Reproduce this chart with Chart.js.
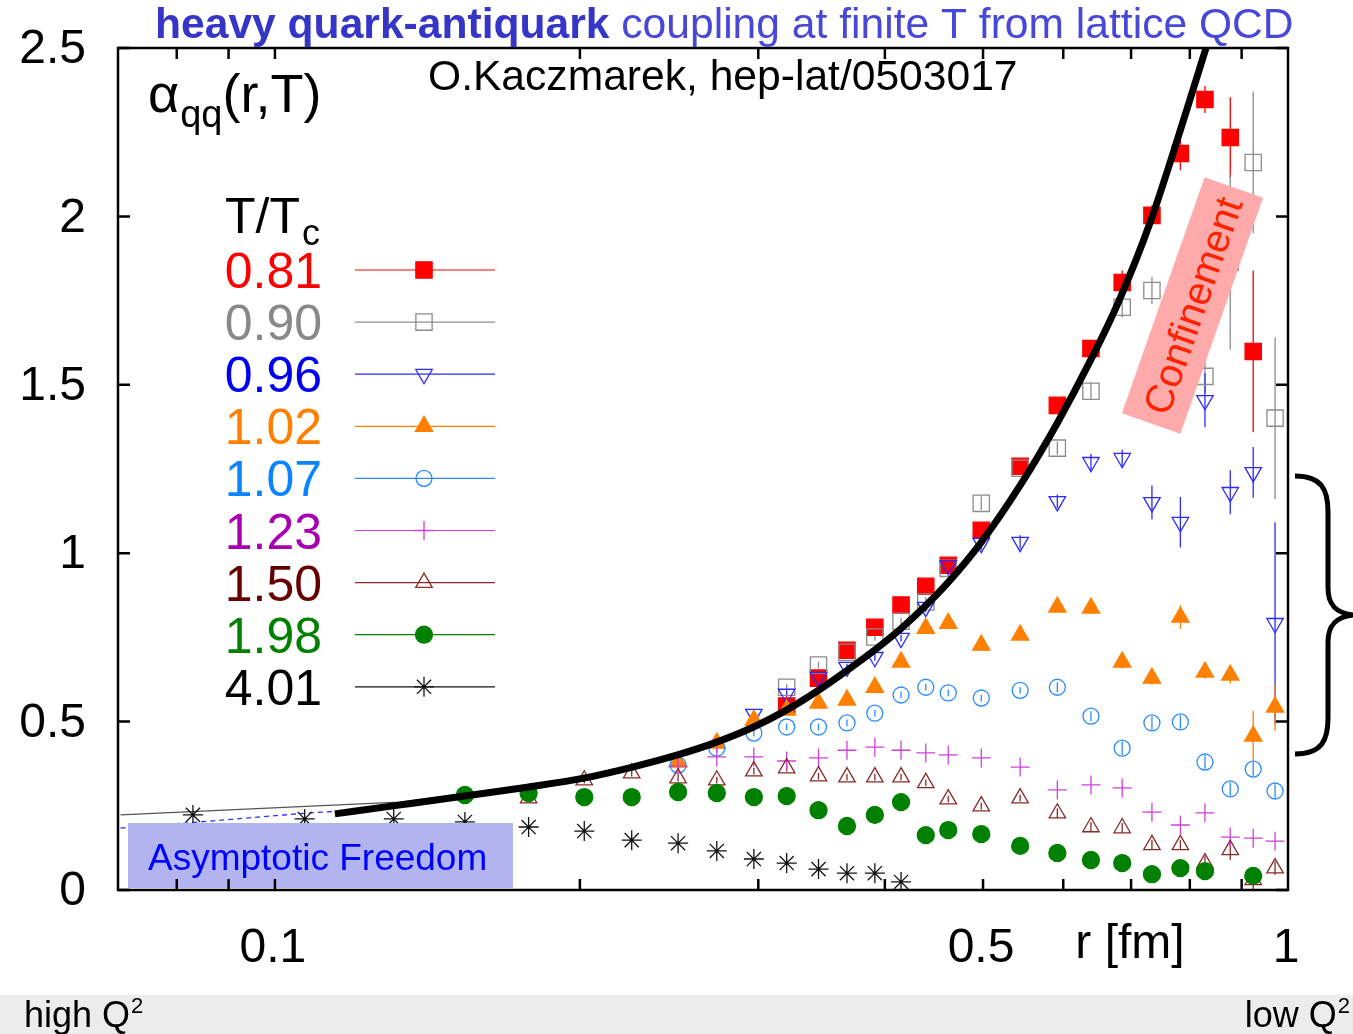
<!DOCTYPE html>
<html>
<head>
<meta charset="utf-8">
<script src="https://cdn.jsdelivr.net/npm/chart.js@4.4.1/dist/chart.umd.min.js"></script>
<style>
  body { margin: 0; background: #fff; }
  #wrap { width: 1353px; height: 1034px; }
</style>
</head>
<body>
<div id="wrap"><canvas id="myChart" width="1353" height="1034"></canvas></div>
<script>
// separations r [fm] at which the lattice points sit
var rValues = [0.083, 0.107, 0.131, 0.154, 0.178, 0.202, 0.225, 0.250, 0.273, 0.297,
               0.320, 0.344, 0.367, 0.391, 0.415, 0.439, 0.462, 0.498, 0.544, 0.592,
               0.639, 0.686, 0.734, 0.783, 0.828, 0.877, 0.924, 0.971];

var tLabels = ['0.81', '0.90', '0.96', '1.02', '1.07', '1.23', '1.50', '1.98', '4.01'];

var N = null;
var a081 = [N, N, N, N, N, N, N, N, N, N, 0.546, 0.629, 0.712, 0.780, 0.846, 0.902, 0.964, 1.068, 1.258, 1.439, 1.608, 1.804, 2.003, 2.187, 2.347, 2.234, 1.599, N];
var a090 = [N, N, N, N, N, N, N, N, N, N, 0.602, 0.668, 0.706, 0.751, 0.798, 0.855, 0.955, 1.148, 1.252, 1.312, 1.481, 1.730, 1.780, 1.720, 1.525, 1.864, 2.160, 1.401];
var a096 = [N, N, N, N, N, N, N, N, N, 0.522, 0.582, 0.632, 0.662, 0.691, 0.748, 0.840, 0.964, 1.030, 1.033, 1.154, 1.270, 1.282, 1.151, 1.092, 1.454, 1.181, 1.240, 0.792];
var a102 = [N, N, N, N, N, N, N, 0.380, 0.436, 0.504, 0.534, 0.555, 0.564, 0.602, 0.677, 0.777, 0.792, 0.727, 0.757, 0.840, 0.837, 0.677, 0.629, 0.810, 0.647, 0.638, 0.457, 0.543];
var a107 = [N, N, N, N, N, N, N, 0.371, 0.421, 0.466, 0.484, 0.484, 0.496, 0.525, 0.579, 0.602, 0.585, 0.570, 0.593, 0.602, 0.516, 0.421, 0.496, 0.499, 0.380, 0.300, 0.359, 0.294];
var a123 = [N, N, N, N, N, N, N, 0.368, 0.395, 0.395, 0.383, 0.392, 0.415, 0.424, 0.415, 0.407, 0.401, 0.392, 0.365, 0.297, 0.312, 0.303, 0.231, 0.193, 0.229, 0.157, 0.154, 0.145];
var a150 = [N, N, N, N, 0.273, 0.326, 0.347, 0.332, 0.326, 0.353, 0.362, 0.338, 0.335, 0.335, 0.335, 0.318, 0.270, 0.249, 0.273, 0.228, 0.187, 0.184, 0.134, 0.134, 0.080, 0.119, 0.030, 0.065];
var a198 = [N, N, N, 0.282, 0.288, 0.276, 0.276, 0.291, 0.288, 0.276, 0.279, 0.237, 0.190, 0.223, 0.261, 0.163, 0.178, 0.166, 0.131, 0.110, 0.089, 0.080, 0.047, 0.065, 0.056, N, 0.042, N];
var a401 = [0.223, 0.211, 0.211, 0.202, 0.187, 0.175, 0.148, 0.139, 0.116, 0.092, 0.080, 0.062, 0.050, 0.050, 0.024, N, N, N, N, N, N, N, N, N, N, N, N, N];

// error bars (0 = none drawn)
var e081 = [0, 0, 0, 0, 0, 0, 0, 0, 0, 0, 0.01, 0.01, 0.01, 0.01, 0.01, 0.01, 0.015, 0.015, 0.02, 0.02, 0.025, 0.035, 0.03, 0.05, 0.04, 0.12, 0.24, 0];
var e090 = [0, 0, 0, 0, 0, 0, 0, 0, 0, 0, 0.01, 0.01, 0.01, 0.01, 0.01, 0.015, 0.015, 0.02, 0.02, 0.02, 0.025, 0.03, 0.04, 0.06, 0.05, 0.26, 0.21, 0.24];
var e096 = [0, 0, 0, 0, 0, 0, 0, 0, 0, 0.01, 0.01, 0.01, 0.01, 0.01, 0.01, 0.015, 0.015, 0.02, 0.02, 0.02, 0.025, 0.025, 0.05, 0.075, 0.08, 0.065, 0.075, 0.3];
var e102 = [0, 0, 0, 0, 0, 0, 0, 0.01, 0.01, 0.01, 0.01, 0.01, 0.01, 0.01, 0.01, 0.01, 0.01, 0.015, 0.015, 0.015, 0.015, 0.02, 0.02, 0.035, 0.02, 0.025, 0.075, 0.07];
var e107 = [0, 0, 0, 0, 0, 0, 0, 0.01, 0.01, 0.01, 0.01, 0.01, 0.01, 0.01, 0.01, 0.01, 0.01, 0.01, 0.01, 0.015, 0.015, 0.02, 0.02, 0.02, 0.02, 0.02, 0.02, 0.02];
var e150 = [0, 0, 0, 0, 0.01, 0.01, 0.01, 0.01, 0.01, 0.01, 0.01, 0.01, 0.01, 0.01, 0.01, 0.01, 0.01, 0.01, 0.01, 0.015, 0.015, 0.015, 0.015, 0.015, 0.02, 0.03, 0.03, 0.02];

// perturbative / T=0 curves
var rCurve = [0.1146, 0.1325, 0.1539, 0.1781, 0.2017, 0.2254, 0.2497, 0.2729, 0.2968, 0.3198, 0.3440, 0.3674, 0.3906, 0.4152, 0.4385, 0.4621, 0.4981, 0.5442, 0.5918, 0.640, 0.680, 0.731, 0.793, 0.830];
var aCurve = [0.226, 0.252, 0.279, 0.306, 0.332, 0.365, 0.401, 0.439, 0.484, 0.534, 0.593, 0.653, 0.712, 0.777, 0.843, 0.914, 1.033, 1.202, 1.386, 1.579, 1.745, 1.982, 2.309, 2.50];
var rThin = [0.0704, 0.1325, 0.1539, 0.1781];
var aThin = [0.223, 0.261, 0.285, 0.310];
var rDash = [0.0704, 0.0841, 0.1085, 0.1307, 0.1539, 0.1781, 0.2017, 0.2254, 0.2497, 0.2729];
var aDash = [0.184, 0.202, 0.229, 0.246, 0.280, 0.307, 0.336, 0.370, 0.406, 0.443];

var yTickValues = [0, 0.5, 1, 1.5, 2, 2.5];
var yTickLabels = ['0', '0.5', '1', '1.5', '2', '2.5'];
var xTickValues = [0.08, 0.09, 0.1, 0.2, 0.3, 0.4, 0.5, 0.6, 0.7, 0.8, 0.9];
var xLabelValues = [0.1, 0.5, 1];
var xLabelTexts = ['0.1', '0.5', '1'];

var FONT = '"Liberation Sans", Arial, Helvetica, sans-serif';

var styles = [
  { vals: a081, errs: e081, color: '#ff0000', text: '#ff0000', shape: 'rect', radius: 11.5, fill: true, rot: 0 },
  { vals: a090, errs: e090, color: '#8c8c8c', text: '#888888', shape: 'rect', radius: 11.5, fill: false, rot: 0 },
  { vals: a096, errs: e096, color: '#2a2aff', text: '#0000ee', shape: 'triangle', radius: 9.5, fill: false, rot: 180 },
  { vals: a102, errs: e102, color: '#ff8000', text: '#ff8000', shape: 'triangle', radius: 10, fill: true, rot: 0 },
  { vals: a107, errs: e107, color: '#2b8cff', text: '#0a84ff', shape: 'circle', radius: 8, fill: false, rot: 0 },
  { vals: a123, errs: null, color: '#d040d8', text: '#a800b0', shape: 'cross', radius: 9.5, fill: false, rot: 0 },
  { vals: a150, errs: e150, color: '#8a2a2a', text: '#660000', shape: 'triangle', radius: 9.5, fill: false, rot: 0 },
  { vals: a198, errs: null, color: '#008000', text: '#008000', shape: 'circle', radius: 8.5, fill: true, rot: 0 },
  { vals: a401, errs: null, color: '#111111', text: '#000000', shape: 'star', radius: 10, fill: false, rot: 0 }
];

function points(vals, errs) {
  var out = [];
  for (var i = 0; i < rValues.length; i++) {
    if (vals[i] === null) continue;
    out.push({ x: rValues[i], y: vals[i], e: errs ? errs[i] : 0 });
  }
  return out;
}
function line(xs, ys) {
  return xs.map(function (x, i) { return { x: x, y: ys[i] }; });
}

var datasets = [{
  data: line(rCurve, aCurve), showLine: true, borderColor: '#000', borderWidth: 7,
  pointRadius: 0, cubicInterpolationMode: 'monotone', order: 0
}];
styles.forEach(function (s, i) {
  datasets.push({
    label: tLabels[i],
    data: points(s.vals, s.errs),
    showLine: false,
    pointStyle: s.shape,
    pointRadius: s.radius,
    pointRotation: s.rot,
    pointBorderWidth: 1.3,
    pointBorderColor: s.color,
    pointBackgroundColor: s.fill ? s.color : 'rgba(0,0,0,0)',
    errColor: s.color,
    order: 10 - i
  });
});
datasets.push({
  data: line(rThin, aThin), showLine: true, borderColor: '#555', borderWidth: 1.3, pointRadius: 0, order: 20
});
datasets.push({
  data: line(rDash, aDash), showLine: true, borderColor: '#3030ff', borderWidth: 1.3, borderDash: [5, 4],
  pointRadius: 0, cubicInterpolationMode: 'monotone', order: 21
});

function txt(ctx, s, x, y, size, color, align, weight) {
  ctx.font = (weight || 'normal') + ' ' + size + 'px ' + FONT;
  ctx.fillStyle = color;
  ctx.textAlign = align || 'left';
  ctx.textBaseline = 'alphabetic';
  ctx.fillText(s, x, y);
  return ctx.measureText(s).width;
}

var decor = {
  id: 'decor',
  beforeDraw: function (chart) {
    var ctx = chart.ctx;
    ctx.save();
    ctx.fillStyle = '#fff';
    ctx.fillRect(0, 0, chart.width, chart.height);
    ctx.fillStyle = '#ececec';
    ctx.fillRect(0, 995, chart.width, 39);
    ctx.restore();
  },
  beforeDatasetsDraw: function (chart) {
    var ctx = chart.ctx, xs = chart.scales.x, ys = chart.scales.y, a = chart.chartArea;
    ctx.save();
    ctx.beginPath();
    ctx.rect(a.left, a.top, a.right - a.left, a.bottom - a.top);
    ctx.clip();
    ctx.lineWidth = 1.3;
    chart.data.datasets.forEach(function (ds) {
      if (!ds.errColor) return;
      ctx.strokeStyle = ds.errColor;
      ds.data.forEach(function (p) {
        if (!p.e) return;
        var px = xs.getPixelForValue(p.x);
        ctx.beginPath();
        ctx.moveTo(px, ys.getPixelForValue(p.y - p.e));
        ctx.lineTo(px, ys.getPixelForValue(p.y + p.e));
        ctx.stroke();
      });
    });
    ctx.restore();
  },
  afterDatasetsDraw: function (chart) {
    var ctx = chart.ctx;
    ctx.save();
    // Asymptotic Freedom box
    ctx.fillStyle = '#b1b4ee';
    ctx.fillRect(128, 823, 385, 65);
    txt(ctx, 'Asymptotic Freedom', 148, 870, 37, '#0000ff');
    // Confinement box
    ctx.translate(1192.5, 305.5);
    ctx.rotate(-70.7 * Math.PI / 180);
    ctx.fillStyle = '#ffaaaa';
    ctx.fillRect(-125, -31, 250, 62);
    txt(ctx, 'Confinement', 0, 14, 40, '#ff2200', 'center');
    ctx.restore();
  },
  afterDraw: function (chart) {
    var ctx = chart.ctx, xs = chart.scales.x, ys = chart.scales.y, a = chart.chartArea;
    ctx.save();
    // frame and ticks
    ctx.strokeStyle = '#000';
    ctx.lineWidth = 2.5;
    ctx.strokeRect(a.left, a.top, a.right - a.left, a.bottom - a.top);
    yTickValues.forEach(function (v, i) {
      var py = ys.getPixelForValue(v);
      ctx.beginPath();
      ctx.moveTo(a.left, py); ctx.lineTo(a.left + 12, py);
      ctx.moveTo(a.right, py); ctx.lineTo(a.right - 12, py);
      ctx.stroke();
      ctx.font = '48px ' + FONT;
      ctx.fillStyle = '#000';
      ctx.textAlign = 'right';
      ctx.textBaseline = 'middle';
      ctx.fillText(yTickLabels[i], 86, py + 2);
    });
    xTickValues.forEach(function (v) {
      var px = xs.getPixelForValue(v);
      ctx.beginPath();
      ctx.moveTo(px, a.bottom); ctx.lineTo(px, a.bottom - 11);
      ctx.moveTo(px, a.top); ctx.lineTo(px, a.top + 11);
      ctx.stroke();
    });
    xLabelValues.forEach(function (v, i) {
      txt(ctx, xLabelTexts[i], xs.getPixelForValue(v) - 2, 962, 48, '#000', 'center');
    });
    txt(ctx, 'r [fm]', 1130, 958, 48, '#000', 'center');

    // title and labels
    var w = txt(ctx, 'heavy quark-antiquark', 155, 38, 42.6, '#3535c8', 'left', 'bold');
    txt(ctx, ' coupling at finite T from lattice QCD', 155 + w, 38, 42.6, '#4848d8');
    txt(ctx, 'O.Kaczmarek, hep-lat/0503017', 428, 90, 42.6, '#000');
    var x0 = 148;
    x0 += txt(ctx, '\u03b1', x0, 112, 54, '#000');
    x0 += txt(ctx, 'qq', x0 + 1, 127, 38, '#000') + 1;
    txt(ctx, '(r,T)', x0, 112, 54, '#000');
    var tw = txt(ctx, 'T/T', 225, 233, 50, '#000');
    txt(ctx, 'c', 225 + tw + 2, 245, 36, '#000');

    // legend
    styles.forEach(function (s, i) {
      var yc = 270 + 52.1 * i;
      txt(ctx, tLabels[i], 322, yc + 18, 50, s.text, 'right');
      ctx.strokeStyle = s.color;
      ctx.lineWidth = 1.2;
      ctx.beginPath();
      ctx.moveTo(355, yc); ctx.lineTo(495, yc);
      ctx.stroke();
      ctx.lineWidth = 1.3;
      ctx.fillStyle = s.fill ? s.color : 'rgba(0,0,0,0)';
      Chart.helpers.drawPoint(ctx, { pointStyle: s.shape, radius: s.radius, rotation: s.rot, borderWidth: 1.3 }, 424, yc);
    });

    // brace
    ctx.strokeStyle = '#000';
    ctx.lineWidth = 5;
    ctx.beginPath();
    ctx.moveTo(1295, 476);
    ctx.bezierCurveTo(1322, 476, 1328, 490, 1328, 512);
    ctx.lineTo(1328, 588);
    ctx.bezierCurveTo(1328, 605, 1336, 613, 1353, 615);
    ctx.bezierCurveTo(1336, 617, 1328, 625, 1328, 642);
    ctx.lineTo(1328, 718);
    ctx.bezierCurveTo(1328, 740, 1322, 754, 1295, 754);
    ctx.stroke();

    // bottom band text
    var hw = txt(ctx, 'high Q', 24, 1027, 36, '#000');
    txt(ctx, '2', 24 + hw + 1, 1013, 22, '#000');
    ctx.font = '22px ' + FONT;
    var sw = ctx.measureText('2').width;
    txt(ctx, 'low Q', 1350 - sw - 1, 1027, 36, '#000', 'right');
    txt(ctx, '2', 1350, 1013, 22, '#000', 'right');
    ctx.restore();
  }
};

new Chart('myChart', {
  type: 'scatter',
  data: { datasets: datasets },
  options: {
    responsive: false,
    animation: false,
    events: [],
    layout: { padding: { left: 118, top: 48, right: 65, bottom: 144 } },
    plugins: { legend: { display: false }, tooltip: { enabled: false } },
    scales: {
      x: { type: 'logarithmic', min: 0.07, max: 1, display: false },
      y: { type: 'linear', min: 0, max: 2.5, display: false }
    }
  },
  plugins: [decor]
});
</script>
</body>
</html>
